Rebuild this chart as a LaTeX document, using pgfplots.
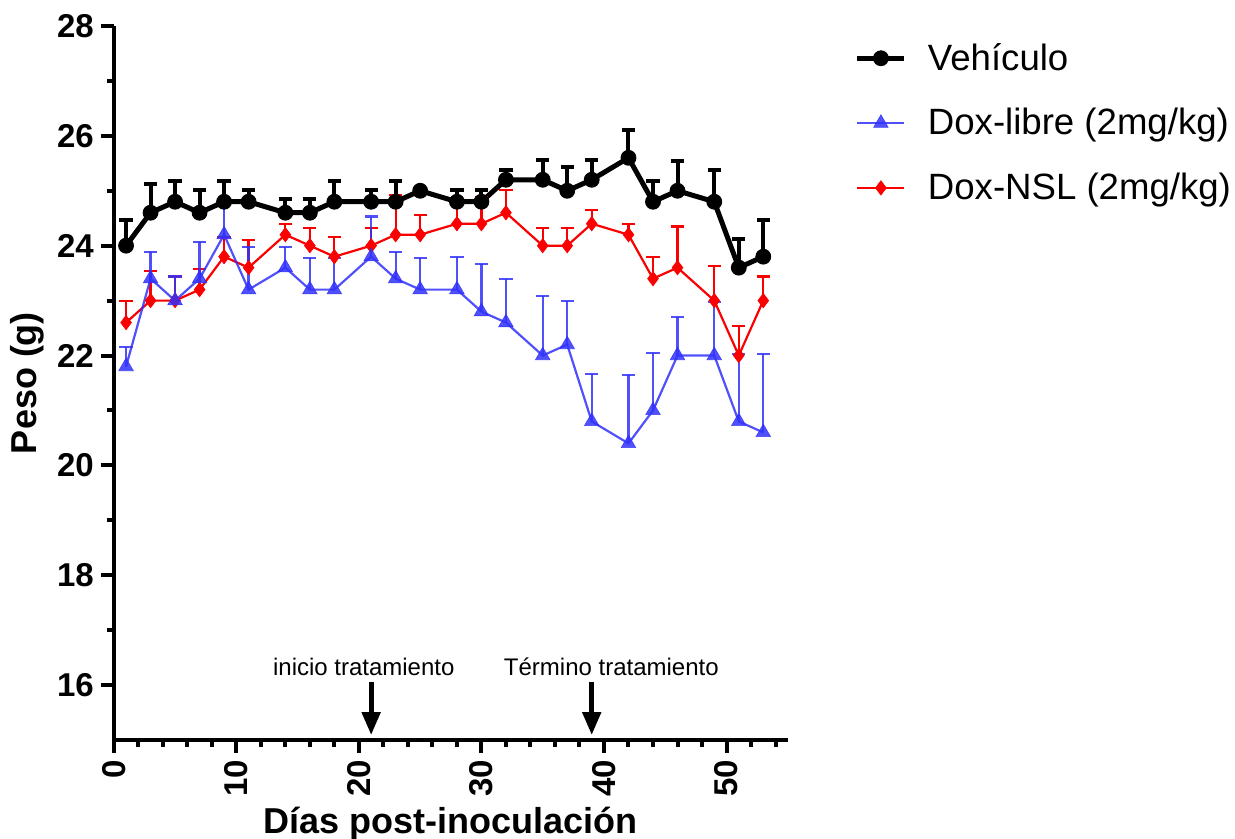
\documentclass[border=0pt]{standalone}
\usepackage{fontspec}
\setmainfont{Liberation Sans}
\usepackage{pgfplots}
\pgfplotsset{compat=1.18}
\usetikzlibrary{arrows.meta}

\definecolor{libc}{RGB}{50,50,250}
\definecolor{nslc}{RGB}{250,0,0}

% day, mean, upper SEM
\pgfplotstableread{
x y e
1 24.0 0.46
3 24.6 0.52
5 24.8 0.38
7 24.6 0.41
9 24.8 0.38
11 24.8 0.21
14 24.6 0.25
16 24.6 0.25
18 24.8 0.38
21 24.8 0.21
23 24.8 0.38
25 25.0 0.0
28 24.8 0.21
30 24.8 0.21
32 25.2 0.18
35 25.2 0.36
37 25.0 0.44
39 25.2 0.36
42 25.6 0.50
44 24.8 0.38
46 25.0 0.54
49 24.8 0.58
51 23.6 0.52
53 23.8 0.66
}\vehiculo

\pgfplotstableread{
x y e
1 21.8 0.36
3 23.4 0.49
5 23.0 0.44
7 23.4 0.67
9 24.2 0.63
11 23.2 0.78
14 23.6 0.38
16 23.2 0.57
18 23.2 0.57
21 23.8 0.73
23 23.4 0.49
25 23.2 0.57
28 23.2 0.59
30 22.8 0.86
32 22.6 0.79
35 22.0 1.08
37 22.2 0.79
39 20.8 0.86
42 20.4 1.25
44 21.0 1.04
46 22.0 0.70
49 22.0 0.98
51 20.8 1.23
53 20.6 1.43
}\doxlibre

\pgfplotstableread{
x y e
1 22.6 0.39
3 23.0 0.54
5 23.0 0.44
7 23.2 0.37
9 23.8 0.36
11 23.6 0.50
14 24.2 0.20
16 24.0 0.32
18 23.8 0.36
21 24.0 0.32
23 24.2 0.72
25 24.2 0.36
28 24.4 0.37
30 24.4 0.49
32 24.6 0.41
35 24.0 0.32
37 24.0 0.32
39 24.4 0.25
42 24.2 0.20
44 23.4 0.40
46 23.6 0.75
49 23.0 0.63
51 22.0 0.54
53 23.0 0.44
}\doxnsl

\pgfplotsset{
  vehstyle/.style={black, line width=2.5pt, mark=*, mark size=3.7pt, mark options={solid, line width=0.5pt}},
  libstyle/.style={libc, opacity=0.85, line width=1.1pt, mark=triangle*, mark size=4.2pt, mark options={solid, line width=0.3pt}},
  nslstyle/.style={nslc, line width=1.1pt, mark=diamond*, mark size=3.6pt, mark options={solid, line width=0.3pt}},
}

\begin{document}
\begin{tikzpicture}
\begin{axis}[
  scale only axis,
  width=337pt, height=357pt,
  xmin=0, xmax=55, ymin=15, ymax=28,
  axis lines=left,
  axis line style={line width=2pt, -},
  xtick={0,10,...,50}, minor xtick={0,2,...,54},
  ytick={16,18,...,28}, minor ytick={17,19,...,27},
  tick align=outside,
  tick style={line width=2pt, black},
  major tick length=6.5pt, minor tick length=3.5pt,
  tick label style={font=\fontsize{16.5}{19}\selectfont\bfseries},
  /pgf/number format/assume math mode=true,
  x tick label style={rotate=90, anchor=east},
  xlabel={Días post-inoculación},
  ylabel={Peso (g)},
  label style={font=\fontsize{18}{21}\selectfont\bfseries},
  xlabel style={at={(axis description cs:0.5,-0.1303)}, anchor=base},
  ylabel style={at={(axis description cs:-0.1154,0.5)}, anchor=base},
  clip=false,
  legend style={at={(axis description cs:1.099,0.982)}, anchor=north west,
    draw=none, fill=none, inner sep=0pt, row sep=13.6pt, column sep=8.5pt,
    font=\fontsize{18.3}{21}\selectfont},
  legend cell align=left,
  legend image code/.code={\draw[mark repeat=2, mark phase=2, #1]
    plot coordinates {(0pt,0pt) (11.75pt,0pt) (23.5pt,0pt)};},
]

\addplot[vehstyle, forget plot,
  error bars/.cd, y dir=plus, y explicit,
  error bar style={line width=2pt, solid},
  error mark options={rotate=90, line width=2pt, mark size=3.3pt, black}]
  table[x=x, y=y, y error=e] {\vehiculo};

\addplot[nslstyle, forget plot,
  error bars/.cd, y dir=plus, y explicit,
  error bar style={line width=1.1pt, solid},
  error mark options={rotate=90, line width=1.1pt, mark size=3.3pt, nslc}]
  table[x=x, y=y, y error=e] {\doxnsl};

\addplot[libstyle, forget plot,
  error bars/.cd, y dir=plus, y explicit,
  error bar style={line width=1.1pt, solid},
  error mark options={rotate=90, line width=1.1pt, mark size=3.3pt, libc}]
  table[x=x, y=y, y error=e] {\doxlibre};

\addlegendimage{vehstyle}
\addlegendentry{Vehículo}
\addlegendimage{libstyle}
\addlegendentry{Dox-libre (2mg/kg)}
\addlegendimage{nslstyle}
\addlegendentry{Dox-NSL (2mg/kg)}

% treatment window
\draw[line width=2.5pt, -{Triangle[width=9pt, length=11.5pt]}]
  (axis cs:21,16.06) -- (axis cs:21,15.09);
\draw[line width=2.5pt, -{Triangle[width=9pt, length=11.5pt]}]
  (axis cs:39,16.06) -- (axis cs:39,15.09);
\node[anchor=base, font=\fontsize{12}{14}\selectfont] at (axis cs:20.4,16.18) {inicio tratamiento};
\node[anchor=base, font=\fontsize{12}{14}\selectfont] at (axis cs:40.6,16.18) {Término tratamiento};

\end{axis}
\pgfresetboundingbox
\path (-56.9pt,-49.5pt) rectangle (560.6pt,370pt);
\end{tikzpicture}
\end{document}
